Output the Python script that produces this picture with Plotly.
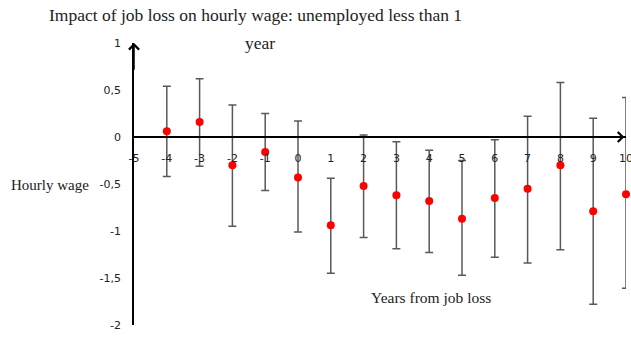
import plotly.graph_objects as go

# Event-study estimates: effect of job loss on hourly wage
years = [-4, -3, -2, -1, 0, 1, 2, 3, 4, 5, 6, 7, 8, 9, 10]
estimate = [0.06, 0.16, -0.30, -0.16, -0.43, -0.94, -0.52, -0.62, -0.68, -0.87, -0.65, -0.55, -0.30, -0.79, -0.61]
upper = [0.54, 0.62, 0.34, 0.25, 0.17, -0.44, 0.02, -0.05, -0.14, -0.25, -0.03, 0.22, 0.58, 0.20, 0.42]
lower = [-0.42, -0.31, -0.95, -0.57, -1.01, -1.45, -1.07, -1.19, -1.23, -1.47, -1.28, -1.34, -1.20, -1.78, -1.61]

x_ticks = list(range(-5, 11))
y_ticks = [1, 0.5, 0, -0.5, -1, -1.5, -2]
y_ticktext = ["1", "0,5", "0", "-0,5", "-1", "-1,5", "-2"]

err_plus = [u - e for u, e in zip(upper, estimate)]
err_minus = [e - l for e, l in zip(estimate, lower)]

W, H = 631, 337
L, R, T, B = 134, 5, 43, 12
pw, ph = W - L - R, H - T - B


def px(xp):
    return (xp - L) / pw


def py(yp):
    return (H - B - yp) / ph


fig = go.Figure()
fig.add_trace(go.Scatter(
    x=years, y=estimate, mode="markers",
    marker=dict(color="#ff0000", size=8),
    error_y=dict(type="data", symmetric=False, array=err_plus, arrayminus=err_minus,
                 color="#595959", thickness=1.5, width=4),
    cliponaxis=False, showlegend=False,
))

tick_font = dict(family="DejaVu Sans", size=11, color="#222222")
serif = "Liberation Serif"

fig.update_layout(
    width=W, height=H,
    margin=dict(l=L, r=R, t=T, b=B),
    paper_bgcolor="white", plot_bgcolor="white",
    xaxis=dict(range=[-5, 10], tickvals=x_ticks, ticktext=[str(v) for v in x_ticks],
               anchor="free", position=2 / 3, showline=True, linecolor="black", linewidth=1.5,
               showgrid=False, zeroline=False, ticks="", ticklabelstandoff=11,
               ticklabeloverflow="allow",
               tickfont=tick_font, automargin=False),
    yaxis=dict(range=[-2, 1], tickvals=y_ticks, ticktext=y_ticktext,
               showline=True, linecolor="black", linewidth=1.5,
               showgrid=False, zeroline=False, ticks="", ticklabelstandoff=9,
               ticklabeloverflow="allow",
               tickfont=tick_font, automargin=False),
    annotations=[
        dict(text="Impact of job loss on hourly wage: unemployed less than 1",
             xref="paper", yref="paper", x=px(255), y=py(15), showarrow=False,
             xanchor="center", yanchor="middle", font=dict(family=serif, size=17.5, color="#222222")),
        dict(text="year", xref="paper", yref="paper", x=px(260), y=py(43), showarrow=False,
             xanchor="center", yanchor="middle", font=dict(family=serif, size=17.5, color="#222222")),
        dict(text="Hourly wage", xref="paper", yref="paper", x=px(50), y=py(185), showarrow=False,
             xanchor="center", yanchor="middle", font=dict(family=serif, size=15, color="#222222")),
        dict(text="Years from job loss", xref="paper", yref="paper", x=px(431), y=py(297),
             showarrow=False, xanchor="center", yanchor="middle",
             font=dict(family=serif, size=15.5, color="#222222")),
        # arrowheads at the ends of both axes
        dict(x=9.95, y=0, ax=9.5, ay=0, xref="x", yref="y", axref="x", ayref="y",
             text="", showarrow=True, arrowhead=4, arrowsize=1.3, arrowwidth=1.5, arrowcolor="black"),
        dict(x=-5, y=1.0, ax=-5, ay=0.7, xref="x", yref="y", axref="x", ayref="y",
             text="", showarrow=True, arrowhead=4, arrowsize=1.3, arrowwidth=1.5, arrowcolor="black"),
    ],
)

fig.write_html("out.html")
